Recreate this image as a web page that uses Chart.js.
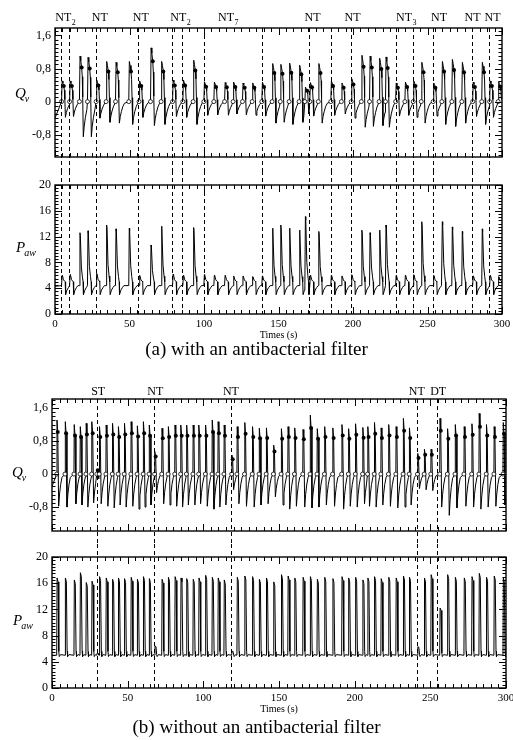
<!DOCTYPE html>
<html>
<head>
<meta charset="utf-8">
<script src="https://cdn.jsdelivr.net/npm/chart.js"></script>
<style>
  body { margin: 0; background: #fff; width: 513px; height: 740px; position: relative; overflow: hidden;
         font-family: 'Liberation Serif', 'Times New Roman', serif; }
  canvas { position: absolute; left: 0; }
  .cap { position: absolute; left: 0; width: 513px; text-align: center; font-size: 19px; line-height: 22px; color: #000; }
</style>
</head>
<body>
<canvas id="qvA" width="513" height="171" style="top:0"></canvas>
<canvas id="pawA" width="513" height="171" style="top:171px"></canvas>
<div class="cap" style="top:338px">(a) with an antibacterial filter</div>
<canvas id="qvB" width="513" height="184" style="top:360px"></canvas>
<canvas id="pawB" width="513" height="172" style="top:544px"></canvas>
<div class="cap" style="top:716px">(b) without an antibacterial filter</div>

<script>
const SERIF = "'Liberation Serif', 'Times New Roman', serif";

// axis ticks
const X_TICKS = [0, 50, 100, 150, 200, 250, 300];
const QV_TICKS = [-0.8, 0, 0.8, 1.6];
const PAW_TICKS = [0, 4, 8, 12, 16, 20];

// (a) with an antibacterial filter -- one entry per breath
const ONSET_A = [4.4, 9.8, 16.4, 21.8, 27.6, 34.3, 40.6, 49.5, 56.4, 64.1,
                 71.2, 78.9, 85.8, 92.7, 99.9, 106.6, 113.8, 119.5, 125.8, 132.3,
                 138.8, 145.7, 151.2, 157.1, 163.8, 167.7, 171.0, 176.7, 185.1, 192.2,
                 198.8, 205.6, 211.1, 217.5, 221.8, 228.6, 234.8, 240.4, 245.8, 253.8,
                 259.6, 266.3, 273.0, 280.3, 286.4, 291.7, 297.4];
const QV_PEAK_A = [0.50, 0.50, 1.10, 1.07, 0.52, 0.97, 0.95, 0.97, 0.50, 1.30,
                   0.97, 0.52, 0.52, 1.00, 0.48, 0.47, 0.46, 0.47, 0.45, 0.45,
                   0.47, 0.92, 0.90, 0.93, 0.88, 0.35, 0.46, 0.92, 0.50, 0.45,
                   0.55, 1.12, 1.10, 1.05, 1.08, 0.45, 0.47, 0.50, 0.95, 0.45,
                   0.97, 1.02, 0.95, 0.47, 0.95, 0.50, 0.48];
const QV_TROUGH_A = [-0.38, -0.36, -0.85, -0.85, -0.40, -0.50, -0.52, -0.55, -0.38, -0.58,
                     -0.55, -0.36, -0.38, -0.55, -0.33, -0.32, -0.33, -0.30, -0.32, -0.33,
                     -0.35, -0.52, -0.50, -0.55, -0.50, -0.30, -0.35, -0.52, -0.33, -0.30,
                     -0.40, -0.62, -0.60, -0.58, -0.62, -0.35, -0.33, -0.38, -0.52, -0.35,
                     -0.55, -0.60, -0.52, -0.36, -0.55, -0.38, -0.35];
const PAW_PEAK_A = [6.0, 6.1, 12.6, 12.9, 6.3, 13.8, 13.2, 13.3, 6.0, 10.7,
                    13.6, 6.2, 6.0, 13.4, 6.1, 6.0, 6.0, 5.9, 5.9, 5.8,
                    5.9, 13.3, 13.8, 13.3, 13.0, 15.1, 6.0, 12.8, 6.0, 5.9,
                    6.1, 13.0, 12.6, 13.0, 13.8, 6.0, 6.0, 6.1, 14.3, 6.0,
                    14.3, 13.5, 12.8, 5.9, 13.2, 6.0, 5.8];
const EVENT_LINES_A = [4.0, 9.4, 27.3, 55.9, 78.5, 85.4, 99.8, 138.7, 170.7, 185.0,
                       198.5, 228.9, 240.5, 253.9, 280.1, 291.5];
const EVENT_TEXT_A = ['NT', 'NT', 'NT', 'NT', 'NT', 'NT', 'NT', 'NT', 'NT', 'NT', 'NT'];
const EVENT_SUB_A = ['2', '', '', '2', '7', '', '', '3', '', '', ''];
const EVENT_AT_A = [5.6, 30.1, 57.6, 82.8, 114.8, 172.8, 199.7, 234.3, 257.7, 280.2, 293.6];

// (b) without an antibacterial filter
const ONSET_B = [3.1, 8.6, 14.5, 18.5, 22.4, 26.2, 29.6, 31.2, 35.6, 39.8,
                 43.7, 47.7, 52.1, 56.2, 60.2, 64.1, 67.8, 72.5, 76.7, 81.1,
                 85.0, 88.8, 93.1, 96.9, 101.3, 105.7, 109.6, 113.6, 118.7, 122.2,
                 127.2, 132.3, 136.8, 141.5, 146.3, 151.4, 155.8, 160.2, 165.7, 170.5,
                 175.1, 180.0, 185.4, 191.4, 195.8, 200.4, 205.2, 208.5, 212.9, 217.3,
                 222.3, 227.2, 232.0, 236.0, 241.5, 245.9, 250.3, 256.2, 261.2, 266.3,
                 272.2, 277.3, 282.1, 286.9, 292.0, 298.0];
const QV_PEAK_B = [1.31, 1.27, 1.20, 1.15, 1.23, 1.27, 0.12, 1.15, 1.19, 1.23,
                   1.15, 1.23, 1.27, 1.17, 1.27, 1.19, 0.55, 1.11, 1.15, 1.19,
                   1.19, 1.19, 1.19, 1.19, 1.19, 1.31, 1.27, 1.19, 0.46, 1.15,
                   1.25, 1.15, 1.11, 1.12, 0.70, 1.10, 1.15, 1.12, 1.08, 1.43,
                   1.10, 1.15, 1.12, 1.20, 1.10, 1.22, 1.13, 1.15, 1.25, 1.12,
                   1.20, 1.15, 1.35, 1.12, 0.50, 0.60, 0.60, 1.35, 1.10, 1.20,
                   1.15, 1.22, 1.47, 1.20, 1.15, 1.25];
const QV_TROUGH_B = [-0.78, -0.80, -0.72, -0.75, -0.80, -0.70, -0.12, -0.72, -0.78, -0.82,
                     -0.75, -0.80, -0.78, -0.85, -0.80, -0.75, -0.45, -0.72, -0.75, -0.78,
                     -0.80, -0.75, -0.75, -0.72, -0.78, -0.85, -0.80, -0.75, -0.38, -0.72,
                     -0.78, -0.80, -0.75, -0.72, -0.55, -0.75, -0.85, -0.78, -0.80, -0.82,
                     -0.80, -0.75, -0.78, -0.85, -0.78, -0.80, -0.72, -0.78, -0.80, -0.75,
                     -0.78, -0.82, -0.80, -0.75, -0.35, -0.38, -0.40, -0.80, -1.00, -0.82,
                     -0.78, -0.80, -0.85, -0.80, -0.78, -0.75];
const PAW_PEAK_B = [16.8, 16.8, 16.5, 17.6, 16.1, 16.3, 5.3, 17.0, 16.8, 16.6,
                    16.8, 16.7, 16.9, 16.6, 17.0, 16.7, 6.4, 16.6, 16.9, 17.0,
                    16.8, 16.7, 16.6, 16.8, 17.2, 16.9, 16.8, 16.5, 5.6, 16.9,
                    17.1, 17.0, 16.6, 16.8, 16.2, 17.3, 17.1, 16.8, 16.9, 17.0,
                    16.6, 16.9, 16.7, 17.0, 16.8, 16.9, 16.5, 16.8, 17.0, 16.7,
                    16.9, 16.8, 17.1, 16.9, 6.3, 16.8, 17.3, 12.2, 17.3, 16.9,
                    16.8, 17.0, 17.5, 16.9, 17.1, 16.8];
const EVENT_LINES_B = [29.5, 67.5, 118.4, 241.1, 254.3];
const EVENT_TEXT_B = ['ST', 'NT', 'NT', 'NT', 'DT'];
const EVENT_SUB_B = ['', '', '', '', ''];
const EVENT_AT_B = [30.5, 68.2, 118.2, 241.0, 255.2];

// shape of one breath around its read values (trigger, peak, cycling-off, trough, recovery)
const breathQvA = (t, p, tr) => [[t, 0], [t + 0.4, p], [t + 0.9, 0.9 * p], [t + 1.5, 0.75 * p], [t + 1.9, 0.55 * p],
                                 [t + 2.2, 0.1 * p], [t + 2.6, tr], [t + 3.2, 0.7 * tr], [t + 4.0, 0.45 * tr],
                                 [t + 5.0, 0.22 * tr], [t + 6.0, 0.08 * tr]];
const breathQvB = (t, p, tr) => [[t, 0], [t + 0.2, p], [t + 0.7, 0.78 * p], [t + 1.3, tr],
                                 [t + 1.9, 0.62 * tr], [t + 2.6, 0.33 * tr], [t + 3.5, 0.1 * tr]];
const breathPawA = (t, p) => [[t, 4.4], [t + 0.35, p], [t + 0.6, p - 0.05 * (p - 5)], [t + 1.3, 5 + 0.3 * (p - 5)],
                              [t + 2.0, 5 + 0.1 * (p - 5)], [t + 2.45, 5.0], [t + 2.7, 3.0], [t + 3.6, 3.7],
                              [t + 4.6, 4.1], [t + 5.6, 4.4]];
const breathPawB = (t, p) => [[t, 5.0], [t + 0.25, p], [t + 0.9, p - 0.05 * (p - 5)], [t + 1.4, 5 + 0.05 * (p - 5)],
                              [t + 1.7, 4.8], [t + 2.6, 5.1]];

function buildTrace(onsets, shapeOf, start, markIdx) {
  const line = [{x: 0, y: start}], on = [], off = [];
  onsets.forEach((t0, i) => {
    const end = i + 1 < onsets.length ? onsets[i + 1] - 0.15 : 300;
    shapeOf(t0, i).forEach(([t, v], j) => {
      if (t >= end) return;
      line.push({x: t, y: v});
      if (j === 0) on.push({x: t, y: v});
      if (j === markIdx) off.push({x: t, y: v});
    });
  });
  return {line, on, off};
}

const qvA = buildTrace(ONSET_A, (t, i) => breathQvA(t, QV_PEAK_A[i], QV_TROUGH_A[i]), -0.4, 3);
const pawA = buildTrace(ONSET_A, (t, i) => breathPawA(t, PAW_PEAK_A[i]), 4.3, -1);
const qvB = buildTrace(ONSET_B, (t, i) => breathQvB(t, QV_PEAK_B[i], QV_TROUGH_B[i]), -0.3, 2);
const pawB = buildTrace(ONSET_B, (t, i) => breathPawB(t, PAW_PEAK_B[i]), 5.0, -1);

// frame with inward ticks, dashed event lines, event labels and y titles
const panelDecor = {
  id: 'panelDecor',
  afterDraw(chart, args, o) {
    const {ctx, chartArea: a} = chart;
    const x = chart.scales.x, y = chart.scales.y;
    const seg = (x1, y1, x2, y2) => { ctx.beginPath(); ctx.moveTo(x1, y1); ctx.lineTo(x2, y2); ctx.stroke(); };
    ctx.save();
    ctx.strokeStyle = '#000';
    ctx.fillStyle = '#000';

    ctx.lineWidth = 1;
    ctx.setLineDash([4, 3]);
    o.lines.forEach(t => {
      const px = Math.round(x.getPixelForValue(t)) + 0.5;
      if (o.down) seg(px, a.top, px, chart.height);
      else seg(px, 0, px, a.bottom);
    });
    ctx.setLineDash([]);

    for (let t = 0; t <= 300; t += 5) {
      const px = Math.round(x.getPixelForValue(t)) + 0.5;
      const len = t % 50 === 0 ? 7 : 4;
      seg(px, a.top, px, a.top + len);
      seg(px, a.bottom, px, a.bottom - len);
    }
    const every = Math.round(o.yMajor / o.yMinor);
    const k0 = Math.ceil(y.min / o.yMinor - 1e-9), k1 = Math.floor(y.max / o.yMinor + 1e-9);
    for (let k = k0; k <= k1; k++) {
      const py = Math.round(y.getPixelForValue(k * o.yMinor)) + 0.5;
      const len = k % every === 0 ? 7 : 3.5;
      seg(a.left, py, a.left + len, py);
      seg(a.right, py, a.right - len, py);
    }
    ctx.lineWidth = 1.4;
    ctx.strokeRect(a.left, a.top, a.right - a.left, a.bottom - a.top);

    if (o.text) {
      ctx.textBaseline = 'alphabetic';
      o.text.forEach((s, i) => {
        const px = x.getPixelForValue(o.at[i]);
        ctx.font = '12px ' + SERIF;
        ctx.textAlign = 'center';
        ctx.fillText(s, px, o.labelY);
        if (o.sub[i]) {
          const w = ctx.measureText(s).width;
          ctx.font = '8px ' + SERIF;
          ctx.textAlign = 'left';
          ctx.fillText(o.sub[i], px + w / 2 + 0.5, o.labelY + 4);
        }
      });
    }

    const [main, sub, tx, ty] = o.title;
    ctx.textAlign = 'left';
    ctx.font = 'italic 15px ' + SERIF;
    ctx.fillText(main, tx, ty);
    const w = ctx.measureText(main).width;
    ctx.font = 'italic 10px ' + SERIF;
    ctx.fillText(sub, tx + w - 1, ty + 4);
    ctx.restore();
  }
};

const commaFmt = v => String(v).replace('.', ',');

function yAxis(min, max, ticks, width) {
  return {
    min: min, max: max,
    afterBuildTicks: s => { s.ticks = ticks.map(v => ({value: v})); },
    afterFit: s => { s.width = width; s.paddingTop = 0; s.paddingBottom = 0; },
    grid: {display: false, drawTicks: false},
    border: {display: false},
    ticks: {color: '#000', padding: 4, font: {family: SERIF, size: 12}, callback: commaFmt}
  };
}

const hiddenX = {type: 'linear', min: 0, max: 300, display: false};
const timeX = {
  type: 'linear', min: 0, max: 300,
  afterBuildTicks: s => { s.ticks = X_TICKS.map(v => ({value: v})); },
  afterFit: s => { s.height = 28; s.paddingLeft = 0; s.paddingRight = 0; },
  grid: {display: false, drawTicks: false},
  border: {display: false},
  ticks: {color: '#000', padding: 4, maxRotation: 0, autoSkip: false, font: {family: SERIF, size: 11}},
  title: {display: true, text: 'Times (s)', color: '#000', font: {family: SERIF, size: 10}, padding: {top: 0, bottom: 1}}
};

function traceSets(tr, withMarks) {
  const sets = [];
  if (withMarks) {
    sets.push({data: tr.off, showLine: false, pointRadius: 2, pointBackgroundColor: '#000', pointBorderWidth: 0});
    sets.push({data: tr.on, showLine: false, pointRadius: 2, pointBackgroundColor: '#fff',
               pointBorderColor: '#000', pointBorderWidth: 0.8});
  }
  sets.push({data: tr.line, borderColor: '#000', borderWidth: 1, pointRadius: 0, tension: 0});
  return sets;
}

function panel(id, datasets, padding, x, y, decor) {
  return new Chart(document.getElementById(id), {
    type: 'line',
    data: {datasets: datasets},
    options: {
      responsive: false,
      animation: false,
      events: [],
      layout: {padding: padding},
      plugins: {legend: {display: false}, tooltip: {enabled: false}, panelDecor: decor},
      scales: {x: x, y: y}
    },
    plugins: [panelDecor]
  });
}

panel('qvA', traceSets(qvA, true), {top: 28, bottom: 14, left: 0, right: 11}, hiddenX,
      yAxis(-1.34, 1.78, QV_TICKS, 55),
      {lines: EVENT_LINES_A, down: true, yMinor: 0.1, yMajor: 0.8,
       text: EVENT_TEXT_A, sub: EVENT_SUB_A, at: EVENT_AT_A, labelY: 21, title: ['Q', 'v', 15, 98]});
panel('pawA', traceSets(pawA, false), {top: 14, bottom: 0, left: 0, right: 11}, timeX,
      yAxis(0, 20, PAW_TICKS, 55),
      {lines: EVENT_LINES_A, down: false, yMinor: 0.5, yMajor: 4, title: ['P', 'aw', 16, 81]});
panel('qvB', traceSets(qvB, true), {top: 39, bottom: 13, left: 0, right: 7}, hiddenX,
      yAxis(-1.38, 1.82, QV_TICKS, 52),
      {lines: EVENT_LINES_B, down: true, yMinor: 0.1, yMajor: 0.8,
       text: EVENT_TEXT_B, sub: EVENT_SUB_B, at: EVENT_AT_B, labelY: 35, title: ['Q', 'v', 12, 117]});
panel('pawB', traceSets(pawB, false), {top: 13, bottom: 0, left: 0, right: 7}, timeX,
      yAxis(0, 20, PAW_TICKS, 52),
      {lines: EVENT_LINES_B, down: false, yMinor: 0.5, yMajor: 4, title: ['P', 'aw', 13, 81]});
</script>
</body>
</html>
